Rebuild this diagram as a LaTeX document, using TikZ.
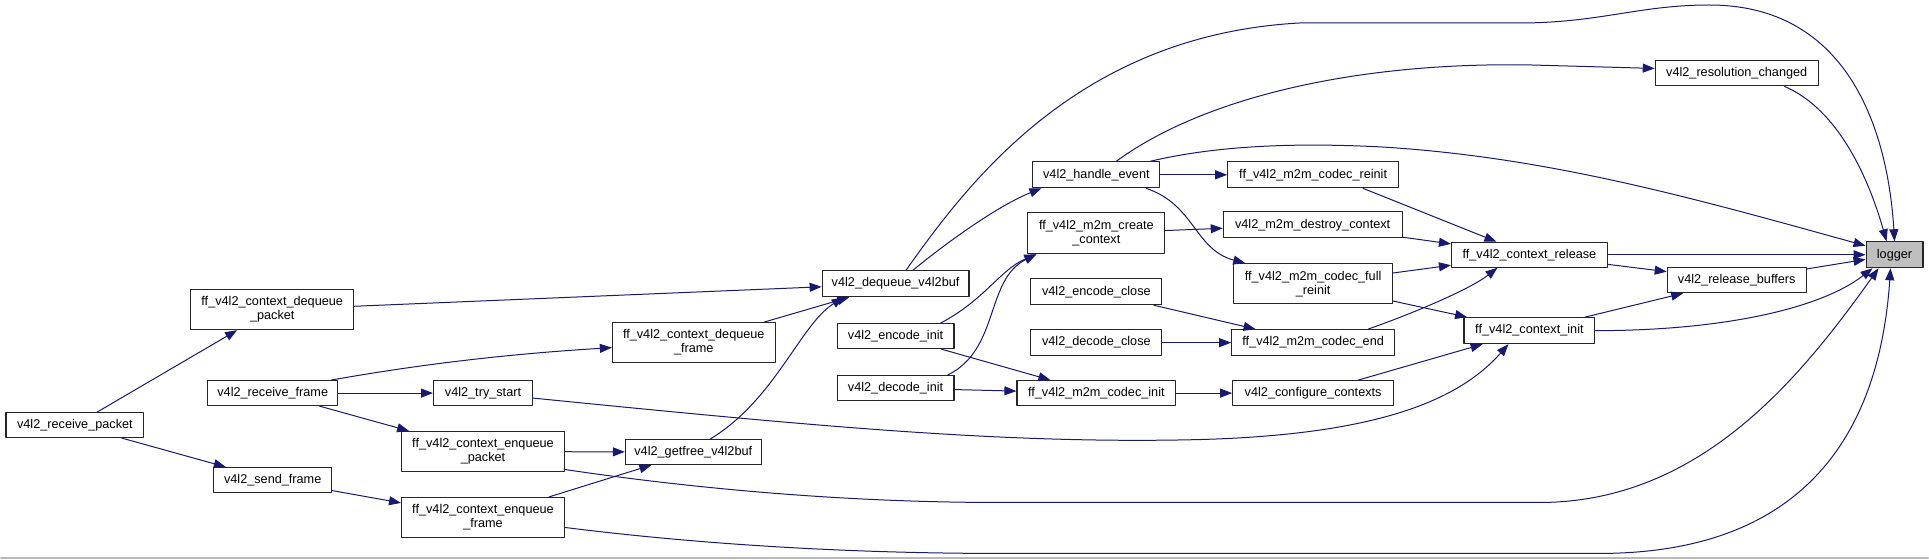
\documentclass[tikz,border=0pt]{standalone}
\usepackage{fontspec}
\setmainfont{Liberation Sans}
\usetikzlibrary{arrows.meta,calc}
\definecolor{edgeblue}{HTML}{191970}

\begin{document}
\begin{tikzpicture}[x=1pt, y=-1pt, >={Triangle[length=12pt,width=9pt]},
  line cap=round, line join=round,
  fn/.style={draw=black!85, line width=1.1pt, fill=white, inner sep=0pt, align=center,
    font=\fontsize{12.7}{14}\selectfont},
  call/.style={->, draw=edgeblue, fill=none, line width=1pt}]

\fill[white] (0,0) rectangle (1929,560);
\draw[gray!55, line width=2pt] (0,558.5) -- (1929,558.5);

\node[fn, minimum width=138pt, minimum height=25pt] (rpkt) at (74,425.5) {v4l2\_receive\_packet};
\node[fn, minimum width=163pt, minimum height=40pt] (dqpkt) at (271.5,310) {ff\_v4l2\_context\_dequeue\\\_packet};
\node[fn, minimum width=130pt, minimum height=25pt] (rframe) at (272,393.5) {v4l2\_receive\_frame};
\node[fn, minimum width=118pt, minimum height=25pt] (sframe) at (272,480.5) {v4l2\_send\_frame};
\node[fn, minimum width=163pt, minimum height=40pt] (dqframe) at (693.5,343) {ff\_v4l2\_context\_dequeue\\\_frame};
\node[fn, minimum width=99pt, minimum height=25pt] (trystart) at (482.5,393.5) {v4l2\_try\_start};
\node[fn, minimum width=163pt, minimum height=40pt] (enqpkt) at (482.5,452) {ff\_v4l2\_context\_enqueue\\\_packet};
\node[fn, minimum width=163pt, minimum height=40pt] (enqframe) at (482.5,518) {ff\_v4l2\_context\_enqueue\\\_frame};
\node[fn, minimum width=136pt, minimum height=25pt] (getfree) at (693,452.5) {v4l2\_getfree\_v4l2buf};
\node[fn, minimum width=147pt, minimum height=26pt] (dqbuf) at (895.5,284) {v4l2\_dequeue\_v4l2buf};
\node[fn, minimum width=117pt, minimum height=25pt] (encinit) at (895.5,336.5) {v4l2\_encode\_init};
\node[fn, minimum width=117pt, minimum height=25pt] (decinit) at (895.5,388.5) {v4l2\_decode\_init};
\node[fn, minimum width=127pt, minimum height=26pt] (handle) at (1096.5,175) {v4l2\_handle\_event};
\node[fn, minimum width=137pt, minimum height=41pt] (create) at (1096.5,233.5) {ff\_v4l2\_m2m\_create\\\_context};
\node[fn, minimum width=131pt, minimum height=26pt] (encclose) at (1096.5,292) {v4l2\_encode\_close};
\node[fn, minimum width=131pt, minimum height=26pt] (decclose) at (1096.5,343) {v4l2\_decode\_close};
\node[fn, minimum width=159pt, minimum height=25pt] (codecinit) at (1096.5,393.5) {ff\_v4l2\_m2m\_codec\_init};
\node[fn, minimum width=171pt, minimum height=26pt] (reinit) at (1313.5,175) {ff\_v4l2\_m2m\_codec\_reinit};
\node[fn, minimum width=179pt, minimum height=26pt] (destroy) at (1313,225) {v4l2\_m2m\_destroy\_context};
\node[fn, minimum width=159pt, minimum height=40pt] (fullreinit) at (1313.5,284) {ff\_v4l2\_m2m\_codec\_full\\\_reinit};
\node[fn, minimum width=163pt, minimum height=26pt] (codecend) at (1313.5,343) {ff\_v4l2\_m2m\_codec\_end};
\node[fn, minimum width=161pt, minimum height=25pt] (config) at (1313.5,393.5) {v4l2\_configure\_contexts};
\node[fn, minimum width=156pt, minimum height=25pt] (release) at (1530,255) {ff\_v4l2\_context\_release};
\node[fn, minimum width=131pt, minimum height=26pt] (init) at (1530,331) {ff\_v4l2\_context\_init};
\node[fn, minimum width=163pt, minimum height=25pt] (resol) at (1737.5,73.5) {v4l2\_resolution\_changed};
\node[fn, minimum width=139pt, minimum height=25pt] (relbuf) at (1737.5,280.5) {v4l2\_release\_buffers};
\node[fn, fill=black!25, minimum width=57pt, minimum height=26pt] (logger) at (1895.5,255) {logger};

\draw[call] (rpkt) -- (dqpkt);
\draw[call] (rpkt) -- (sframe);
\draw[call] (dqpkt) -- (dqbuf);
\draw[call] ([xshift=-7pt]rframe.north east) .. controls (390,370) and (480,356) .. ([yshift=-5pt]dqframe.west);
\draw[call] (rframe) -- (trystart);
\draw[call] (rframe) -- (enqpkt);
\draw[call] (sframe) -- (enqframe);
\draw[call] (dqframe) -- (dqbuf);
\draw[call] ([yshift=-5pt]trystart.east) .. controls (800,425) and (1000,445) .. (1200,440)
  .. controls (1380,435) and (1460,400) .. ([xshift=-21pt]init.south);
\draw[call] (enqpkt) -- (getfree);
\draw[call] ([yshift=-18pt]enqpkt.east) .. controls (700,490) and (850,503) .. (1000,503) -- (1540,503)
  .. controls (1700,503) and (1800,380) .. ([xshift=-16pt]logger.south);
\draw[call] (enqframe) -- (getfree);
\draw[call] ([yshift=-10pt]enqframe.east) .. controls (700,545) and (850,554) .. (1000,554) -- (1600,554)
  .. controls (1800,554) and (1880,440) .. ([xshift=-4pt]logger.south);
\draw[call] ([xshift=17pt]getfree.north) .. controls (775,400) and (800,325) .. ([xshift=-52pt]dqbuf.south);
\draw[call] ([xshift=17.5pt]dqbuf.north) .. controls (950,240) and (1000,205) .. ([xshift=-55pt]handle.south);
\draw[call] ([xshift=10.5pt]dqbuf.north) .. controls (970,180) and (1080,35) .. (1300,23) -- (1520,23)
  .. controls (1600,23) and (1640,5) .. (1710,5) .. controls (1860,5) and (1890,150) .. (logger.north);
\draw[call] ([xshift=45pt]encinit.north) .. controls (985,300) and (1000,270) .. ([xshift=-60pt]create.south);
\draw[call] (encinit) -- (codecinit);
\draw[call] ([xshift=52pt]decinit.north) .. controls (1000,350) and (985,280) .. ([xshift=-60pt]create.south);
\draw[call] (decinit) -- (codecinit);
\draw[call] ([xshift=20pt]handle.north) .. controls (1200,100) and (1350,62) .. (1530,65) -- ([yshift=5pt]resol.west);
\draw[call] ([xshift=54pt]handle.north) .. controls (1220,145) and (1300,143) .. (1380,147)
  .. controls (1550,157) and (1700,200) .. ([yshift=9pt]logger.west);
\draw[call] (handle) -- (reinit);
\draw[call] ([xshift=50pt]handle.south) .. controls (1195,205) and (1195,250) .. ([xshift=-68pt]fullreinit.north);
\draw[call] (create) -- (destroy);
\draw[call] (encclose) -- (codecend);
\draw[call] (decclose) -- (codecend);
\draw[call] (codecinit) -- (config);
\draw[call] ([xshift=50pt]reinit.south) -- ([xshift=-33pt]release.north);
\draw[call] (destroy) -- (release);
\draw[call] (fullreinit) -- (release);
\draw[call] (fullreinit) -- (init);
\draw[call] ([xshift=55pt]codecend.north) .. controls (1410,315) and (1470,290) .. ([xshift=-32pt]release.south);
\draw[call] (config) -- (init);
\draw[call] (release) -- (logger);
\draw[call] (release) -- (relbuf);
\draw[call] (init) -- (relbuf);
\draw[call] (init.east) .. controls (1720,331) and (1820,310) .. ([xshift=-22pt]logger.south);
\draw[call] (relbuf) -- (logger);
\draw[call] ([xshift=48pt]resol.south) .. controls (1840,110) and (1870,180) .. ([xshift=-8pt]logger.north);

\end{tikzpicture}
\end{document}
